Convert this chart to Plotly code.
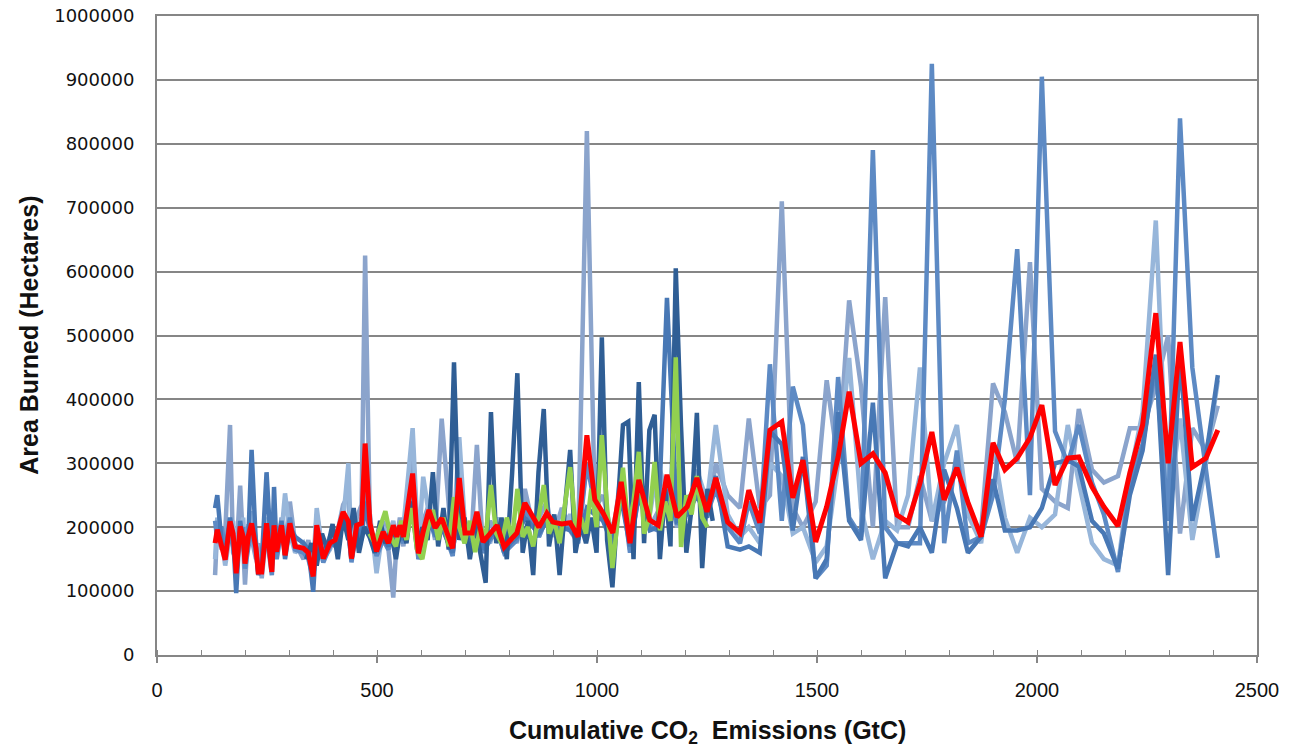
import plotly.graph_objects as go

# ---------------- data (x: cumulative CO2 emissions, GtC; y: thousands of hectares) ----------------
x_common = [132, 137, 147, 155, 166, 173, 180, 189, 196, 200, 208, 215, 225, 230, 238, 249, 261, 266, 272, 283,
            291, 302, 314, 333, 344, 355, 363, 378, 393, 405, 423, 435, 442, 454, 465, 473, 484, 499, 514, 526,
            537, 545, 552, 560, 581, 594, 605, 618, 632, 647, 672, 687, 700, 716, 727, 741, 757, 773, 789, 803,
            818, 836, 855, 868, 886, 900, 920, 939, 957, 977, 995, 1014, 1036, 1055, 1075, 1095, 1120, 1139, 1159, 1182,
            1205, 1227, 1250,
            1270, 1297, 1325, 1345, 1370, 1393, 1420, 1445, 1468, 1497, 1522, 1548, 1573, 1600, 1627, 1655, 1682, 1707,
            1734, 1761, 1789, 1818, 1843, 1873, 1900, 1927, 1955, 1984, 2011, 2041, 2070, 2095, 2125, 2152, 2184, 2211,
            2240, 2270, 2298, 2325, 2353, 2384, 2411]

mean_k = [175, 196, 170, 149, 209, 190, 128, 201, 185, 143, 188, 206, 167, 130, 130, 206, 130, 203, 162, 203,
          156, 206, 170, 167, 160, 123, 203, 151, 175, 180, 224, 209, 151, 203, 206, 331, 206, 162, 193, 175,
          203, 185, 203, 185, 284, 159, 193, 227, 199, 214, 167, 277, 191, 191, 224, 177, 190, 203, 169, 180,
          191, 238, 216, 200, 222, 208, 205, 207, 185, 344, 243, 222, 191, 271, 175, 274, 211, 203, 282, 216,
          232, 277, 224,
          277, 208, 191, 258, 207, 352, 365, 246, 305, 177, 232, 310, 412, 300, 315, 285, 219, 208,
          269, 349, 243, 293, 239, 185, 332, 290, 308, 340, 391, 266, 308, 310, 263, 232, 202, 285,
          360, 535, 300, 490, 294, 308, 352]

run_gray_k = [125, 200, 165, 190, 360, 160, 150, 265, 170, 110, 205, 180, 150, 175, 120, 195, 150, 230, 160, 215,
              170, 240, 175, 150, 180, 130, 220, 160, 185, 175, 235, 250, 165, 215, 235, 625, 200, 150, 210, 165,
              90, 180, 215, 170, 330, 150, 210, 235, 180, 370, 160, 250, 175, 200, 329, 165, 210, 185, 170, 200,
              175, 260, 200, 215, 240, 185, 230, 195, 175, 820, 230, 250, 180, 290, 165, 250, 200, 225, 270, 200,
              245, 260, 215,
              300, 250, 230, 370, 230, 250, 710, 230, 200, 240, 430, 300, 555, 420, 200, 560, 200, 200,
              280, 210, 240, 300, 220, 195, 425, 380, 300, 615, 260, 240, 230, 385, 290, 270, 280, 355,
              355, 420, 500, 190, 355, 320, 390]

run_light_k = [150, 215, 180, 140, 190, 210, 135, 190, 215, 160, 175, 225, 180, 140, 150, 215, 140, 195, 175, 190,
               253, 190, 160, 175, 155, 140, 230, 150, 165, 190, 210, 300, 150, 190, 215, 240, 220, 128, 200, 185,
               210, 175, 195, 200, 355, 165, 279, 220, 205, 200, 175, 341, 200, 185, 215, 190, 175, 215, 180, 175,
               200, 225, 210, 185, 215, 200, 195, 220, 190, 300, 250, 215, 200, 260, 185, 255, 220, 300, 250, 230,
               215, 290, 240,
               360, 220, 185, 200, 175, 300, 280, 190, 200, 145, 170, 300, 465, 230, 150, 210, 195, 250,
               450, 210, 300, 360, 220, 175, 330, 215, 160, 215, 200, 220, 360, 270, 175, 150, 140, 280,
               380, 680, 220, 370, 180, 300, 430]

run_medium_k = [210, 180, 200, 165, 190, 170, 140, 185, 200, 135, 170, 200, 160, 130, 140, 190, 125, 185, 150, 195,
                165, 215, 165, 160, 150, 120, 185, 145, 170, 180, 210, 195, 145, 200, 190, 270, 195, 155, 180, 165,
                195, 175, 190, 175, 265, 150, 180, 215, 185, 205, 155, 265, 180, 180, 215, 160, 180, 195, 160, 170,
                180, 230, 205, 185, 215, 195, 195, 200, 175, 300, 235, 210, 170, 265, 160, 260, 200, 195, 265, 205,
                225, 265, 220,
                260, 200, 175, 240, 190, 455, 210, 420, 360, 120, 140, 435, 215, 185, 790, 200, 175, 175,
                175, 925, 175, 320, 175, 185, 250, 400, 635, 250, 905, 350, 300, 360, 270, 220, 130, 270,
                330, 450, 210, 840, 450, 290, 152]

run_blue_k = [230, 250, 175, 160, 215, 185, 97, 210, 175, 150, 190, 321, 170, 125, 145, 286, 140, 263, 160, 210,
              150, 200, 185, 175, 165, 99, 190, 160, 180, 170, 210, 190, 150, 200, 180, 240, 190, 165, 185, 170,
              200, 190, 195, 180, 240, 160, 185, 210, 190, 200, 160, 250, 180, 185, 210, 165, 185, 200, 160, 175,
              185, 215, 200, 190, 210, 195, 200, 195, 180, 230, 220, 210, 175, 245, 170, 250, 195, 200, 559, 210,
              220, 250, 215,
              280, 170, 165, 170, 160, 350, 330, 195, 310, 120, 150, 380, 210, 180, 395, 120, 175, 170,
              200, 160, 290, 230, 160, 185, 275, 195, 195, 200, 230, 300, 305, 295, 210, 190, 135, 250,
              320, 470, 125, 470, 210, 310, 438]

x_dark = [339, 351, 363, 375, 387, 399, 411, 423, 435, 447, 459, 471, 483, 495, 507, 519, 531, 543, 555, 567,
          579, 591, 603, 615, 627, 639, 651, 663, 675, 687, 699, 711, 723, 735, 747, 759, 771, 783, 795, 807,
          819, 831, 843, 855, 867, 879, 891, 903, 915, 927, 939, 951, 963, 975, 987, 999, 1011, 1023, 1035, 1047,
          1059, 1071, 1083, 1095, 1107, 1119, 1131, 1143, 1155, 1167, 1179, 1191, 1203, 1215, 1227, 1239, 1251, 1263]
run_dark_k = [150, 175, 140, 190, 165, 205, 150, 215, 180, 230, 160, 200, 185, 160, 210, 175, 195, 150, 205, 175,
              240, 165, 200, 180, 286, 170, 230, 165, 458, 180, 215, 150, 205, 160, 113, 380, 175, 215, 150, 284,
              441, 160, 210, 125, 286, 385, 170, 220, 125, 230, 321, 160, 205, 175, 215, 160, 497, 180, 106, 230,
              360, 365, 150, 427, 175, 352, 376, 150, 260, 170, 605, 357, 160, 230, 379, 136, 260, 210]

x_green = [483, 495, 507, 519, 531, 543, 555, 567, 579, 591, 603, 615, 627, 639, 651, 663, 675, 687, 699, 711,
           723, 735, 747, 759, 771, 783, 795, 807, 819, 831, 843, 855, 867, 879, 891, 903, 915, 927, 939, 951,
           963, 975, 987, 999, 1011, 1023, 1035, 1047, 1059, 1071, 1083, 1095, 1107, 1119, 1131, 1143, 1155, 1167,
           1179, 1191, 1203, 1215, 1227, 1239, 1251]
run_green_k = [190, 175, 200, 225, 185, 170, 210, 180, 230, 165, 150, 195, 227, 180, 215, 170, 247, 200, 175, 210,
               161, 200, 185, 266, 190, 175, 215, 180, 260, 185, 200, 170, 215, 266, 190, 210, 175, 230, 294, 200,
               215, 190, 260, 200, 344, 230, 136, 210, 293, 200, 240, 318, 190, 215, 302, 195, 240, 210, 466, 169,
               250, 220, 280, 215, 200]

x_ticks = [0, 500, 1000, 1500, 2000, 2500]
y_ticks = [0, 100000, 200000, 300000, 400000, 500000, 600000, 700000, 800000, 900000, 1000000]


def hectares(vals_k):
    return [v * 1000 for v in vals_k]


fig = go.Figure()
series = [
    (x_common, run_gray_k, "#8BA4CC", 4.5),
    (x_common, run_light_k, "#97B6DA", 4.5),
    (x_common, run_medium_k, "#5D8AC4", 4.5),
    (x_common, run_blue_k, "#4878B5", 4.5),
    (x_dark, run_dark_k, "#2F5E95", 4.5),
    (x_green, run_green_k, "#92D050", 4.5),
    (x_common, mean_k, "#FF0000", 5),
]
for xs, ys, col, w in series:
    fig.add_trace(go.Scatter(x=xs, y=hectares(ys), mode="lines",
                             line=dict(color=col, width=w, shape="linear"),
                             hoverinfo="x+y", showlegend=False))

axis_gray = "#868686"
fig.update_layout(
    width=1295, height=741,
    margin=dict(l=149, r=46, t=8, b=94, autoexpand=False),
    paper_bgcolor="white", plot_bgcolor="white",
    showlegend=False,
    xaxis=dict(range=[0, 2500], tickvals=x_ticks, ticktext=[str(v) for v in x_ticks],
               showgrid=False, zeroline=False, automargin=False,
               showline=True, linecolor=axis_gray, linewidth=2, mirror=True,
               ticks="outside", ticklen=6, tickwidth=1.5, tickcolor=axis_gray,
               minor=dict(dtick=100, ticks="inside", ticklen=5, tickwidth=1, tickcolor=axis_gray),
               ticklabelstandoff=10,
               tickfont=dict(family="Liberation Sans, Arial, sans-serif", size=20, color="#111111")),
    yaxis=dict(range=[0, 1000000], tickvals=y_ticks, ticktext=[str(v) for v in y_ticks],
               showgrid=True, gridcolor=axis_gray, gridwidth=1.6, zeroline=False, automargin=False,
               showline=True, linecolor=axis_gray, linewidth=2, mirror=True,
               ticks="", ticklabelstandoff=17, ticklabeloverflow="allow",
               tickfont=dict(family="DejaVu Sans, Verdana, sans-serif", size=18, color="#111111")),
    annotations=[
        dict(text="<b>Cumulative CO<sub>2</sub>  Emissions (GtC)</b>", xref="paper", yref="paper",
             x=0.5, y=-0.1205, xanchor="center", yanchor="middle", showarrow=False,
             font=dict(family="Liberation Sans, Arial, sans-serif", size=25, color="#111111")),
        dict(text="<b>Area Burned (Hectares)</b>", xref="paper", yref="paper",
             x=-0.117, y=0.5, xanchor="center", yanchor="middle", showarrow=False, textangle=-90,
             font=dict(family="Liberation Sans, Arial, sans-serif", size=25, color="#111111")),
    ],
)

fig.write_html("out.html")
